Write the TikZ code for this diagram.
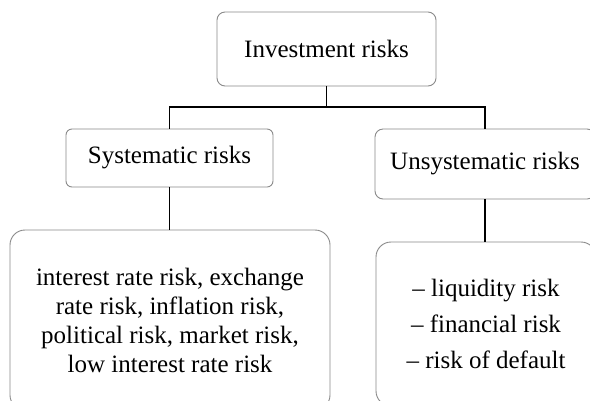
\documentclass[tikz,border=0pt]{standalone}
\usepackage{fontspec}
\setmainfont{Liberation Serif}
\definecolor{boxgray}{HTML}{8A8A8A}
\begin{document}
\begin{tikzpicture}[x=1bp,y=-1bp,
  box/.style={draw=boxgray, line width=0.9bp, rounded corners=8bp, fill=white,
    inner sep=0pt, anchor=center, align=center,
    font=\fontsize{25bp}{29bp}\selectfont},
  bigbox/.style={box, rounded corners=15bp},
  link/.style={draw=black, line width=1.4bp}]
\useasboundingbox (0,0) rectangle (590,400);
\clip (0,0) rectangle (590,400);
\fill[white] (0,0) rectangle (590,400);
\node[box, minimum width=219bp, minimum height=74bp] (top) at (326.5,49) {Investment risks};
\node[box, rounded corners=6bp, minimum width=207bp, minimum height=58bp] (sys) at (169.5,158) {Systematic risks};
\node[box, minimum width=220bp, minimum height=70bp] (uns) at (485,164) {Unsystematic risks};
\node[bigbox, minimum width=320bp, minimum height=180bp] (bl) at (170,320)
  {interest rate risk, exchange\\rate risk, inflation risk,\\political risk, market risk,\\low interest rate risk};
\node[bigbox, minimum width=220bp, minimum height=164bp,
  font=\fontsize{25bp}{36bp}\selectfont] (br) at (486,324)
  {– liquidity risk\\– financial risk\\– risk of default};
\coordinate (j) at (326.5,107);
\draw[link] (top.south) -- (j);
\draw[link] (sys.north) -- (sys.north |- j) -- (uns.north |- j) -- (uns.north);
\draw[link] (sys.south) -- (sys.south |- bl.north);
\draw[link] (uns.south) -- (uns.south |- br.north);
\end{tikzpicture}
\end{document}
